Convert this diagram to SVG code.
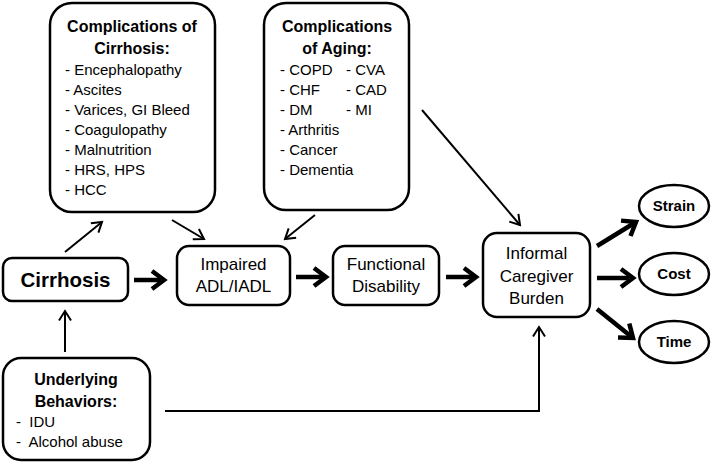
<svg xmlns="http://www.w3.org/2000/svg" width="711" height="463" viewBox="0 0 711 463">
<style>
.box{fill:#fff;stroke:#000;stroke-width:2.5}
.t{font-family:"Liberation Sans",Arial,sans-serif;fill:#000}
.b{font-weight:bold}
.h{font-size:16px;font-weight:bold;text-anchor:middle}
.li{font-size:15px}
.n{font-size:17px;text-anchor:middle}
.thin{fill:none;stroke:#000;stroke-width:2;marker-end:url(#ah)}
.thick{fill:none;stroke:#000;stroke-width:4.5;marker-end:url(#ahb)}
</style>
<defs>
<marker id="ah" markerUnits="userSpaceOnUse" markerWidth="16" markerHeight="16" viewBox="0 0 16 16" refX="12" refY="8" orient="auto">
<path d="M2.5,2 L12,8 L2.5,14" fill="none" stroke="#000" stroke-width="2"/>
</marker>
<marker id="ahb" markerUnits="userSpaceOnUse" markerWidth="24" markerHeight="24" viewBox="0 0 24 24" refX="16" refY="12" orient="auto">
<path d="M4,3 L16,12 L4,21" fill="none" stroke="#000" stroke-width="4.5"/>
</marker>
</defs>
<g id="connectors">
<path class="thin" d="M65,252 L102,222"/>
<path class="thin" d="M172,220 L204,239"/>
<path class="thin" d="M315,215 L285,239"/>
<path class="thin" d="M422,110 L520,225"/>
<path class="thin" d="M65,352 L65,311"/>
<path class="thin" d="M165,411 L539,411 L539,327"/>
<path class="thick" d="M134,280 L164,280"/>
<path class="thick" d="M296,277 L326,277"/>
<path class="thick" d="M446,277 L476,277"/>
<path class="thick" d="M597,246 L636,222"/>
<path class="thick" d="M597,278 L633,278"/>
<path class="thick" d="M597,309 L633,338"/>
</g>
<g id="comp-cirrhosis">
<rect class="box" x="50" y="3" width="165" height="209" rx="22"/>
<text class="t h" x="132" y="32">Complications of</text>
<text class="t h" x="132" y="54">Cirrhosis:</text>
<text class="t li" x="65" y="75">- Encephalopathy</text>
<text class="t li" x="65" y="95">- Ascites</text>
<text class="t li" x="65" y="115">- Varices, GI Bleed</text>
<text class="t li" x="65" y="135">- Coagulopathy</text>
<text class="t li" x="65" y="155">- Malnutrition</text>
<text class="t li" x="65" y="175">- HRS, HPS</text>
<text class="t li" x="65" y="195">- HCC</text>
</g>
<g id="comp-aging">
<rect class="box" x="264" y="3" width="145" height="207" rx="22"/>
<text class="t h" x="337" y="32">Complications</text>
<text class="t h" x="337" y="54">of Aging:</text>
<text class="t li" x="280" y="75">- COPD</text>
<text class="t li" x="346" y="75">- CVA</text>
<text class="t li" x="280" y="95">- CHF</text>
<text class="t li" x="346" y="95">- CAD</text>
<text class="t li" x="280" y="115">- DM</text>
<text class="t li" x="346" y="115">- MI</text>
<text class="t li" x="280" y="135">- Arthritis</text>
<text class="t li" x="280" y="155">- Cancer</text>
<text class="t li" x="280" y="175">- Dementia</text>
</g>
<g id="cirrhosis">
<rect class="box" x="3" y="258" width="125" height="43" rx="9"/>
<text class="t b" x="65.5" y="287" font-size="20.5" text-anchor="middle">Cirrhosis</text>
</g>
<g id="impaired">
<rect class="box" x="177" y="246" width="113" height="59" rx="12"/>
<text class="t n" x="233.5" y="270">Impaired</text>
<text class="t n" x="233.5" y="292">ADL/IADL</text>
</g>
<g id="functional">
<rect class="box" x="333" y="246" width="106" height="59" rx="12"/>
<text class="t n" x="386" y="270">Functional</text>
<text class="t n" x="386" y="292">Disability</text>
</g>
<g id="burden">
<rect class="box" x="483" y="233" width="107" height="84" rx="14"/>
<text class="t n" x="536.5" y="259">Informal</text>
<text class="t n" x="536.5" y="282">Caregiver</text>
<text class="t n" x="536.5" y="304">Burden</text>
</g>
<g id="underlying">
<rect class="box" x="3" y="358" width="147" height="102" rx="18"/>
<text class="t h" x="76" y="385">Underlying</text>
<text class="t h" x="76" y="407">Behaviors:</text>
<text class="t li" x="16" y="427" xml:space="preserve">-  IDU</text>
<text class="t li" x="16" y="447" xml:space="preserve">-  Alcohol abuse</text>
</g>
<g id="strain">
<ellipse class="box" cx="674" cy="206" rx="35" ry="21"/>
<text class="t b" x="674" y="211" font-size="15" text-anchor="middle">Strain</text>
</g>
<g id="cost">
<ellipse class="box" cx="674" cy="274" rx="35" ry="21"/>
<text class="t b" x="674" y="279" font-size="15" text-anchor="middle">Cost</text>
</g>
<g id="time">
<ellipse class="box" cx="674" cy="342" rx="35" ry="21"/>
<text class="t b" x="674" y="347" font-size="15" text-anchor="middle">Time</text>
</g>
</svg>
